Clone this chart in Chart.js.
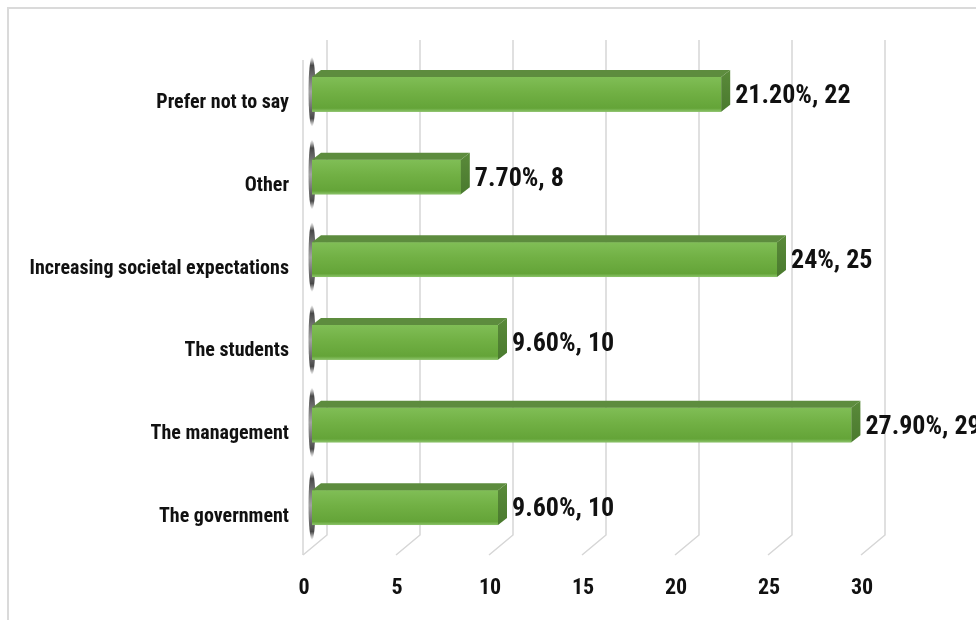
<!DOCTYPE html>
<html>
<head>
<meta charset="utf-8">
<script src="https://cdn.jsdelivr.net/npm/chart.js@4.4.1/dist/chart.umd.min.js"></script>
<style>
  html, body { margin: 0; padding: 0; background: #ffffff; }
  #wrap { width: 976px; height: 620px; position: relative; }
</style>
</head>
<body>
<div id="wrap"><canvas id="chart" width="976" height="620"></canvas></div>
<script>
// Survey answers, top to bottom
const categories = ['Prefer not to say', 'Other', 'Increasing societal expectations', 'The students', 'The management', 'The government'];
const counts = [22, 8, 25, 10, 29, 10];
const shares = ['21.20%', '7.70%', '24%', '9.60%', '27.90%', '9.60%'];
const xTicks = [0, 5, 10, 15, 20, 25, 30];

const FONT = '"Liberation Sans Narrow", "Roboto Condensed", "Liberation Sans", sans-serif';

// 3D geometry (pixels)
const BAR_DX = 9, BAR_DY = 7;          // depth of each bar
const WALL_BACK_DX = 15;               // back wall offset from the bar front plane
const WALL_FRONT_DX = -9;              // floor front edge offset
const WALL_TOP = 40, WALL_BOTTOM = 535, FLOOR_FRONT = 555;

function frontFill(ctx, t, b) {
  const g = ctx.createLinearGradient(0, t, 0, b);
  g.addColorStop(0, '#80be56');
  g.addColorStop(0.45, '#71b044');
  g.addColorStop(0.9, '#64a438');
  g.addColorStop(1, '#8cc46a');
  return g;
}

const threeD = {
  id: 'threeD',
  beforeDraw(chart) {
    const ctx = chart.ctx;
    // outer frame
    ctx.save();
    ctx.strokeStyle = '#dadada';
    ctx.lineWidth = 2;
    ctx.strokeRect(8, 8, 1200, 1200);
    ctx.restore();
  },
  beforeDatasetsDraw(chart) {
    const ctx = chart.ctx;
    const x = chart.scales.x;
    ctx.save();
    ctx.strokeStyle = '#d6d6d6';
    ctx.lineWidth = 1.5;
    // back wall gridlines and their floor diagonals
    xTicks.forEach(v => {
      const px = x.getPixelForValue(v);
      ctx.beginPath();
      ctx.moveTo(px + WALL_BACK_DX, WALL_TOP);
      ctx.lineTo(px + WALL_BACK_DX, WALL_BOTTOM);
      ctx.lineTo(px + WALL_FRONT_DX, FLOOR_FRONT);
      ctx.stroke();
    });
    // front edge of the side wall
    const p0 = x.getPixelForValue(0);
    ctx.beginPath();
    ctx.moveTo(p0 + WALL_FRONT_DX, 60);
    ctx.lineTo(p0 + WALL_FRONT_DX, FLOOR_FRONT);
    ctx.stroke();
    // dark shading on the side wall behind each bar
    const meta = chart.getDatasetMeta(0);
    meta.data.forEach(bar => {
      const top = bar.y - bar.height / 2 - 20;
      const bottom = bar.y + bar.height / 2 + 15;
      const g = ctx.createLinearGradient(0, top, 0, bottom);
      g.addColorStop(0, 'rgba(60,60,60,0)');
      g.addColorStop(0.12, 'rgba(40,40,40,0.85)');
      g.addColorStop(0.5, 'rgba(100,100,100,0.6)');
      g.addColorStop(0.88, 'rgba(40,40,40,0.85)');
      g.addColorStop(1, 'rgba(60,60,60,0)');
      ctx.fillStyle = g;
      ctx.beginPath();
      ctx.ellipse(p0, (top + bottom) / 2, 3.5, (bottom - top) / 2, 0, 0, Math.PI * 2);
      ctx.fill();
    });
    ctx.restore();
  },
  afterDatasetsDraw(chart) {
    const ctx = chart.ctx;
    const meta = chart.getDatasetMeta(0);
    ctx.save();
    meta.data.forEach((bar, i) => {
      const x0 = bar.base, x1 = bar.x;
      const t = bar.y - bar.height / 2, b = bar.y + bar.height / 2;
      // shaded front face
      ctx.fillStyle = frontFill(ctx, t, b);
      ctx.fillRect(x0, t, x1 - x0, b - t);
      // top face
      ctx.fillStyle = '#5d8c3e';
      ctx.beginPath();
      ctx.moveTo(x0, t);
      ctx.lineTo(x0 + BAR_DX, t - BAR_DY);
      ctx.lineTo(x1 + BAR_DX, t - BAR_DY);
      ctx.lineTo(x1, t);
      ctx.closePath();
      ctx.fill();
      // right face
      const rg = ctx.createLinearGradient(0, t - BAR_DY, 0, b);
      rg.addColorStop(0, '#5a8a3a');
      rg.addColorStop(1, '#4a7a2e');
      ctx.fillStyle = rg;
      ctx.beginPath();
      ctx.moveTo(x1, t);
      ctx.lineTo(x1 + BAR_DX, t - BAR_DY);
      ctx.lineTo(x1 + BAR_DX, b - BAR_DY);
      ctx.lineTo(x1, b);
      ctx.closePath();
      ctx.fill();
      // value label
      ctx.fillStyle = '#111111';
      ctx.font = 'bold 26px ' + FONT;
      ctx.textAlign = 'left';
      ctx.textBaseline = 'middle';
      ctx.fillText(shares[i] + ', ' + counts[i], x1 + 14, bar.y + 2);
    });
    ctx.restore();
  }
};

const chart = new Chart(document.getElementById('chart'), {
  type: 'bar',
  data: {
    labels: categories,
    datasets: [{
      data: counts,
      categoryPercentage: 0.42,
      barPercentage: 1,
      borderWidth: 0,
      backgroundColor: '#70ad47'
    }]
  },
  options: {
    indexAxis: 'y',
    responsive: false,
    animation: false,
    devicePixelRatio: 1,
    layout: { padding: { top: 53, right: 106, left: 0, bottom: 0 } },
    plugins: { legend: { display: false }, tooltip: { enabled: false } },
    scales: {
      x: {
        min: 0, max: 30,
        afterBuildTicks(scale) { scale.ticks = xTicks.map(v => ({ value: v })); },
        afterFit(scale) { scale.height = 71; },
        grid: { display: false, drawTicks: false },
        border: { display: false },
        ticks: {
          color: '#111111',
          font: { family: FONT, size: 22, weight: 'bold' },
          padding: 26,
          labelOffset: -8
        }
      },
      y: {
        afterFit(scale) { scale.width = 312; },
        grid: { display: false, drawTicks: false },
        border: { display: false },
        ticks: {
          color: '#111111',
          font: { family: FONT, size: 20, weight: 'bold' },
          padding: 23,
          labelOffset: 9
        }
      }
    }
  },
  plugins: [threeD]
});
</script>
</body>
</html>
